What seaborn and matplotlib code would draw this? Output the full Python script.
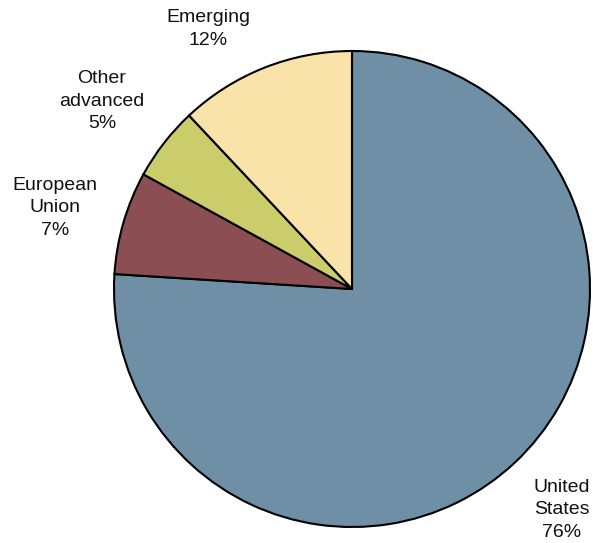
import matplotlib
matplotlib.use("Agg")
import matplotlib.pyplot as plt
import seaborn as sns

categories = ["United\nStates", "European\nUnion", "Other\nadvanced", "Emerging"]
shares = [76, 7, 5, 12]
colors = ["#6E8FA6", "#8B4F53", "#CBCD6A", "#F9E3A8"]
label_pos = [(562, 510), (55, 208), (102, 101), (208, 29)]

sns.set_theme(style="white")
plt.rcParams['font.family'] = ['Liberation Sans', 'DejaVu Sans']

W, H = 597, 543
fig = plt.figure(figsize=(W / 100, H / 100), dpi=100)
ax = fig.add_axes([0, 0, 1, 1])

pal = sns.color_palette(colors)
ax.pie(shares, colors=pal, startangle=90, counterclock=False,
       center=(352, H - 289), radius=238,
       wedgeprops=dict(edgecolor="black", linewidth=1.5), frame=True)
ax.set_xlim(0, W)
ax.set_ylim(0, H)
ax.axis("off")

for cat, val, (x, y) in zip(categories, shares, label_pos):
    ax.text(x, H - y, f"{cat}\n{val}%", ha="center", va="center",
            fontsize=14, color="#111111", linespacing=1.4)

fig.savefig("out.png", dpi=100)
